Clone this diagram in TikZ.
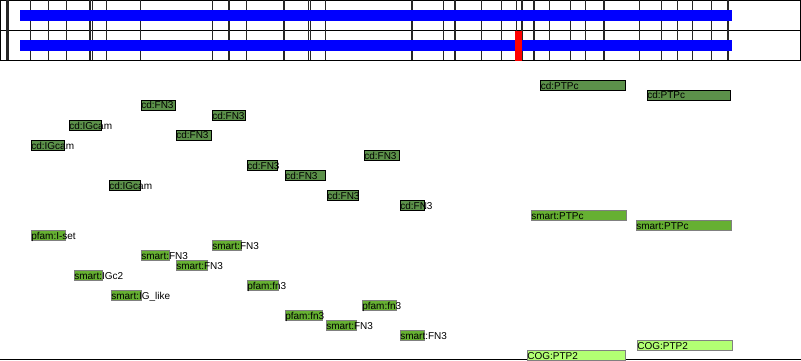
\documentclass[tikz,border=0pt]{standalone}
\usepackage{fontspec}
\setmainfont{Liberation Sans}
\definecolor{cdgreen}{RGB}{92,145,74}
\definecolor{smgreen}{RGB}{102,176,50}
\definecolor{coggreen}{RGB}{178,255,115}
\definecolor{barblue}{RGB}{0,0,255}
\definecolor{barred}{RGB}{255,0,0}
\tikzset{
  cdbox/.style={fill=cdgreen, draw=black, line width=1pt},
  smbox/.style={fill=smgreen, draw=black!50, line width=1pt},
  cogbox/.style={fill=coggreen, draw=black!50, line width=1pt},
  lbl/.style={inner sep=0pt, outer sep=0pt, font=\fontsize{10}{12}\selectfont, text=black},
  tick/.style={draw=black!85, line width=1.2pt},
  frame/.style={draw=black, line width=1pt}
}
\newcommand\feat[6]{%
  \path[#2] (#3,#5+0.5) rectangle (#4,#5+10.5);
  \node[lbl, anchor=base west] (#1) at (#3+0.3,#5+9) {#6};
}
\begin{document}
\begin{tikzpicture}[x=1pt,y=-1pt]
\useasboundingbox (0,0) rectangle (801,361);
% header frame
\draw[frame] (0.5,0.5) rectangle (800.5,60.5);
\draw[frame] (0.5,30.5) -- (800.5,30.5);
\foreach \xx in {7,8.7,30.7,48.7,66.3,89.3,90.7,92.3,106.7,140.7,212.2,229,246.5,284,308.2,310.7,325.3,412,443.3,455,481.7,501.7,516.3,522,534,549.5,570.7,585.5,604,639.7,661.5,677.3,692.7,711.7,728}
  \draw[tick] (\xx,0.5) -- (\xx,60.5);
% bars
\fill[barblue] (19.5,10) rectangle (732,20.7);
\fill[barblue] (19.5,40) rectangle (732,50.7);
\fill[barred] (515,31) rectangle (522.3,61);
% bottom rule
\draw[frame] (0,359.7) -- (801,359.7);
% cd features
\feat{f1}{cdbox}{141}{175}{100}{cd:FN3}
\feat{f2}{cdbox}{212}{245}{110}{cd:FN3}
\feat{f3}{cdbox}{69}{101}{120}{cd:IGcam}
\feat{f4}{cdbox}{176}{211}{130}{cd:FN3}
\feat{f5}{cdbox}{31}{64}{140}{cd:IGcam}
\feat{f6}{cdbox}{364}{399}{150}{cd:FN3}
\feat{f7}{cdbox}{247}{277}{160}{cd:FN3}
\feat{f8}{cdbox}{285}{325}{170}{cd:FN3}
\feat{f9}{cdbox}{109}{140}{180}{cd:IGcam}
\feat{f10}{cdbox}{327}{358}{190}{cd:FN3}
\feat{f11}{cdbox}{400}{424}{200}{cd:FN3}
\feat{f12}{cdbox}{540.5}{625.7}{80}{cd:PTPc}
\feat{f13}{cdbox}{647}{730}{90}{cd:PTPc}
% smart / pfam features
\feat{s1}{smbox}{531}{626}{210}{smart:PTPc}
\feat{s2}{smbox}{636}{731}{220}{smart:PTPc}
\feat{s3}{smbox}{31}{65}{230}{pfam:I-set}
\feat{s4}{smbox}{212}{241}{240}{smart:FN3}
\feat{s5}{smbox}{141}{169}{250}{smart:FN3}
\feat{s6}{smbox}{176}{207}{260}{smart:FN3}
\feat{s7}{smbox}{74}{102}{270}{smart:IGc2}
\feat{s8}{smbox}{247}{278}{280}{pfam:fn3}
\feat{s9}{smbox}{111}{141}{290}{smart:IG\_like}
\feat{s10}{smbox}{362}{396}{300}{pfam:fn3}
\feat{s11}{smbox}{285}{322}{310}{pfam:fn3}
\feat{s12}{smbox}{326}{356}{320}{smart:FN3}
\feat{s13}{smbox}{400}{424}{330}{smart:FN3}
% COG features
\feat{c1}{cogbox}{637}{732}{340}{COG:PTP2}
\feat{c2}{cogbox}{527}{625}{350}{COG:PTP2}
\end{tikzpicture}
\end{document}
